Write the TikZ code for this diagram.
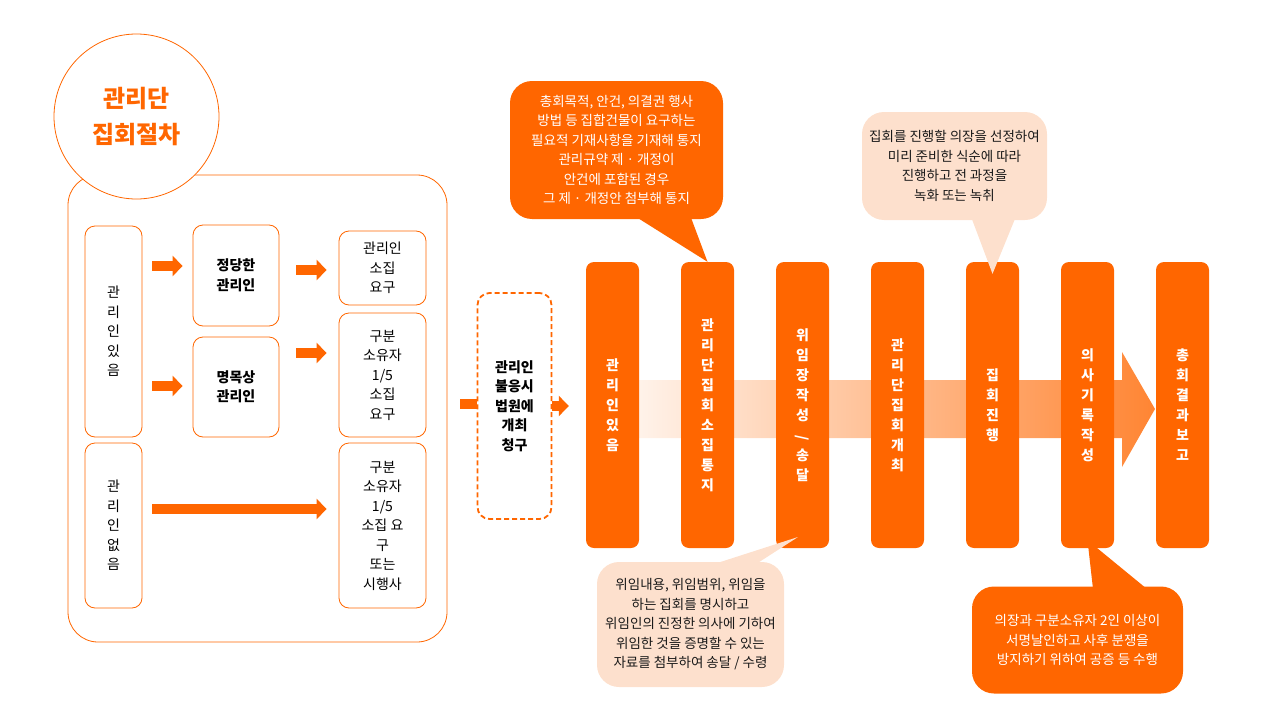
\documentclass[tikz,border=0pt]{standalone}
\usepackage{fontspec}
\setmainfont{Noto Sans CJK KR}
\usetikzlibrary{arrows.meta,calc}
\definecolor{brandorange}{RGB}{255,102,0}
\definecolor{peach}{RGB}{253,224,205}
\definecolor{bandlight}{RGB}{255,248,243}
\definecolor{banddark}{RGB}{255,133,51}

\begin{document}
\begin{tikzpicture}[x=1pt, y=-1pt,
    box/.style={draw=brandorange, line width=0.8pt, rounded corners=10pt, fill=white,
        align=center, inner sep=0pt, font=\fontsize{14}{19.5}\selectfont},
    boldbox/.style={box, font=\bfseries\fontsize{14}{19.5}\selectfont},
    blockarrow/.style={draw=brandorange, line width=10pt, -{Triangle[length=10pt, width=20pt]}},
    bar/.style={fill=brandorange, rounded corners=8pt, minimum width=53pt, minimum height=286pt,
        inner sep=0pt, text=white, align=center, font=\bfseries\fontsize{14}{20}\selectfont},
    bubble/.style={rounded corners=22pt, inner sep=0pt, align=center,
        font=\fontsize{13.5}{19.5}\selectfont},
    hotbubble/.style={bubble, fill=brandorange, text=white},
    softbubble/.style={bubble, fill=peach, text=black!90}
]

    \useasboundingbox (0,0) rectangle (1280,720);

    % --- PANNELLO SINISTRO (cornice e titolo) ---
    \node[draw=brandorange, line width=0.8pt, rounded corners=30pt,
        minimum width=379pt, minimum height=467pt] (frame) at (257.5,408.5) {};
    \node[circle, draw=brandorange, line width=0.8pt, fill=white, minimum size=165pt,
        text=brandorange, align=center, font=\bfseries\fontsize{24}{36}\selectfont]
        (title) at (136.5,116.5) {관리단\\집회절차};

    % Colonna 1: con / senza amministratore
    \node[box, minimum width=57pt, minimum height=211pt] (has) at (113.5,331.5) {관\\리\\인\\있\\음};
    \node[box, minimum width=57pt, minimum height=165pt] (hasnot) at (113.5,525.5) {관\\리\\인\\없\\음};

    % Colonna 2
    \node[boldbox, minimum width=86pt, minimum height=101pt] (legit) at (236,275.5) {정당한\\관리인};
    \node[boldbox, minimum width=86pt, minimum height=100pt] (nominal) at (236,387) {명목상\\관리인};

    % Colonna 3
    \node[box, minimum width=87pt, minimum height=74pt] (callreq) at (382.5,268) {관리인\\소집\\요구};
    \node[box, minimum width=87pt, minimum height=124pt] (ownerreq) at (382.5,375) {구분\\소유자\\1/5\\소집\\요구};
    \node[box, minimum width=87pt, minimum height=165pt] (ownerreqb) at (382.5,525.5) {구분\\소유자\\1/5\\소집 요\\구\\또는\\시행사};

    % Righe delle frecce
    \coordinate (r1) at (0,266);
    \coordinate (r2) at (0,386);
    \coordinate (r3) at (0,270);
    \coordinate (r4) at (0,353);
    \coordinate (r5) at (0,509);

    \draw[blockarrow, shorten <=10pt, shorten >=10pt] (has.east |- r1) -- (legit.west |- r1);
    \draw[blockarrow, shorten <=10pt, shorten >=10pt] (has.east |- r2) -- (nominal.west |- r2);
    \draw[blockarrow, shorten <=17pt, shorten >=12pt] (legit.east |- r3) -- (callreq.west |- r3);
    \draw[blockarrow, shorten <=17pt, shorten >=12pt] (nominal.east |- r4) -- (ownerreq.west |- r4);
    \draw[blockarrow, shorten <=10pt, shorten >=12pt] (hasnot.east |- r5) -- (ownerreqb.west |- r5);

    % --- FRECCIA DI FONDO (sfumata) ---
    \shade[left color=bandlight, right color=banddark]
        (612,380) -- (1122,380) -- (1122,352) -- (1155,409) -- (1122,467) -- (1122,438) -- (612,438) -- cycle;

    % --- BARRE DELLE FASI ---
    \foreach \name/\txt [count=\i] in {
        b1/{관\\리\\인\\있\\음},
        b2/{관\\리\\단\\집\\회\\소\\집\\통\\지},
        b3/{위\\임\\장\\작\\성\\\rotatebox{90}{/}\\송\\달},
        b4/{관\\리\\단\\집\\회\\개\\최},
        b5/{집\\회\\진\\행},
        b6/{의\\사\\기\\록\\작\\성},
        b7/{총\\회\\결\\과\\보\\고}} {
        \node[bar] (\name) at ({612.5+95*(\i-1)},405) {\txt};
    }

    % --- RICHIESTA AL TRIBUNALE ---
    \draw[brandorange, line width=10pt, shorten <=13pt] (frame.east |- 0,404) -- (477,404);
    \node[draw=brandorange, line width=1.8pt, dash pattern=on 5pt off 3pt, rounded corners=12pt,
        fill=white, minimum width=74pt, minimum height=226pt, inner sep=0pt, align=center,
        font=\bfseries\fontsize{14}{19.5}\selectfont] (court) at (514.5,406) {관리인\\불응시\\법원에\\개최\\청구};
    \draw[blockarrow, shorten >=17pt] (court.east) -- (court.east -| b1.west);

    % --- FUMETTI ---
    \fill[brandorange] (633,215) -- (690,215) -- (b2.north) -- cycle;
    \node[hotbubble, minimum width=213pt, minimum height=138pt] (note1) at (616.5,150)
        {총회목적, 안건, 의결권 행사\\방법 등 집합건물이 요구하는\\필요적 기재사항을 기재해 통지\\관리규약 제 · 개정이\\안건에 포함된 경우\\그 제 · 개정안 첨부해 통지};

    \fill[peach] (970,214) -- (1017,214) -- ($(b5.north)+(0,12)$) -- cycle;
    \node[softbubble, minimum width=185pt, minimum height=108pt] (note2) at (954.5,166)
        {집회를 진행할 의장을 선정하여\\미리 준비한 식순에 따라\\진행하고 전 과정을\\녹화 또는 녹취};

    \coordinate (tip3) at (798,537);
    \fill[peach] (708,566) -- (753,566) -- (tip3) -- cycle;
    \node[softbubble, minimum width=187pt, minimum height=125pt] (note3) at (690.5,624.5)
        {위임내용, 위임범위, 위임을\\하는 집회를 명시하고\\위임인의 진정한 의사에 기하여\\위임한 것을 증명할 수 있는\\자료를 첨부하여 송달 / 수령};

    \fill[brandorange] (1093,589) -- (1147,589) -- ($(b6.south)+(0,-8)$) -- cycle;
    \node[hotbubble, minimum width=211pt, minimum height=107pt] (note4) at (1077.5,640)
        {의장과 구분소유자 2인 이상이\\서명날인하고 사후 분쟁을\\방지하기 위하여 공증 등 수행};

\end{tikzpicture}
\end{document}
